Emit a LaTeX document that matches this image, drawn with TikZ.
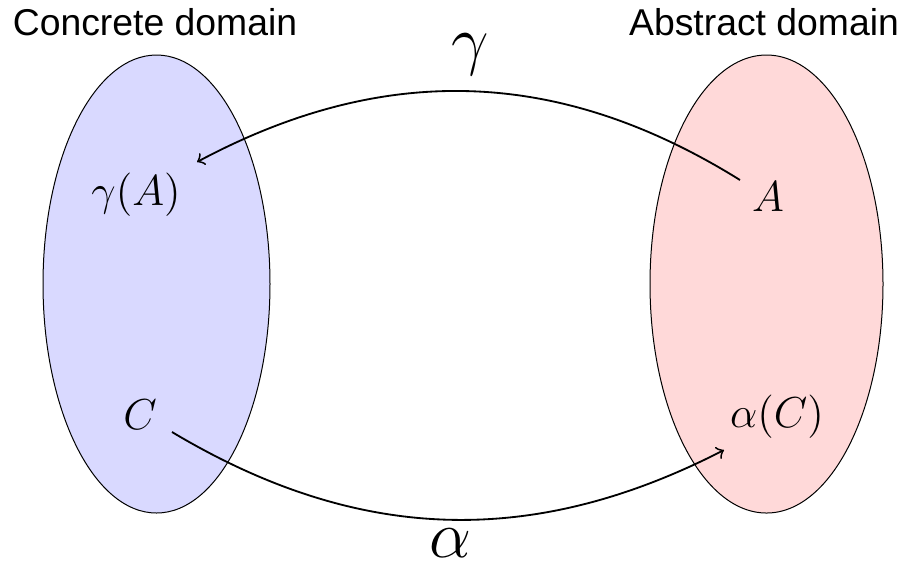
\documentclass[tikz,border=0pt]{standalone}
\usepackage{fix-cm}
\usepackage{fontspec}
\setsansfont{Liberation Sans}
\begin{document}
\begin{tikzpicture}[x=0.3pt,y=-0.3pt,
  dom/.style={draw=black,line width=0.3pt},
  ttl/.style={font=\sffamily\fontsize{11.2}{13}\selectfont,inner sep=0pt},
  elt/.style={font=\fontsize{13}{15}\selectfont,inner sep=2pt},
  maplbl/.style={font=\fontsize{20}{24}\selectfont,inner sep=0pt},
  maparrow/.style={->,line width=0.55pt}]
\useasboundingbox (0,0) rectangle (903,567);
\draw[dom,fill=blue!15] (156.5,284) ellipse [x radius=113.5,y radius=229];
\draw[dom,fill=red!15] (766.5,284) ellipse [x radius=116.5,y radius=229];
\node[ttl] (cd) at (155,22) {Concrete domain};
\node[ttl] (ad) at (764,22) {Abstract domain};
\node[elt] (gA) at (136,195) {$\gamma(A)$};
\node[elt] (A) at (768,197) {$A$};
\node[elt] (C) at (140,415) {$C$};
\node[elt] (aC) at (777,417) {$\alpha(C)$};
\coordinate (gs) at (740,180);
\coordinate (ge) at (197,162);
\coordinate (as) at (172,432);
\coordinate (ae) at (724,450);
\draw[maparrow] (gs) to[bend right=30] (ge);
\draw[maparrow] (as) to[bend right=29] (ae);
\node[maplbl] (g) at (470,55) {$\gamma$};
\node[maplbl] (a) at (450,543) {$\alpha$};
\end{tikzpicture}
\end{document}
